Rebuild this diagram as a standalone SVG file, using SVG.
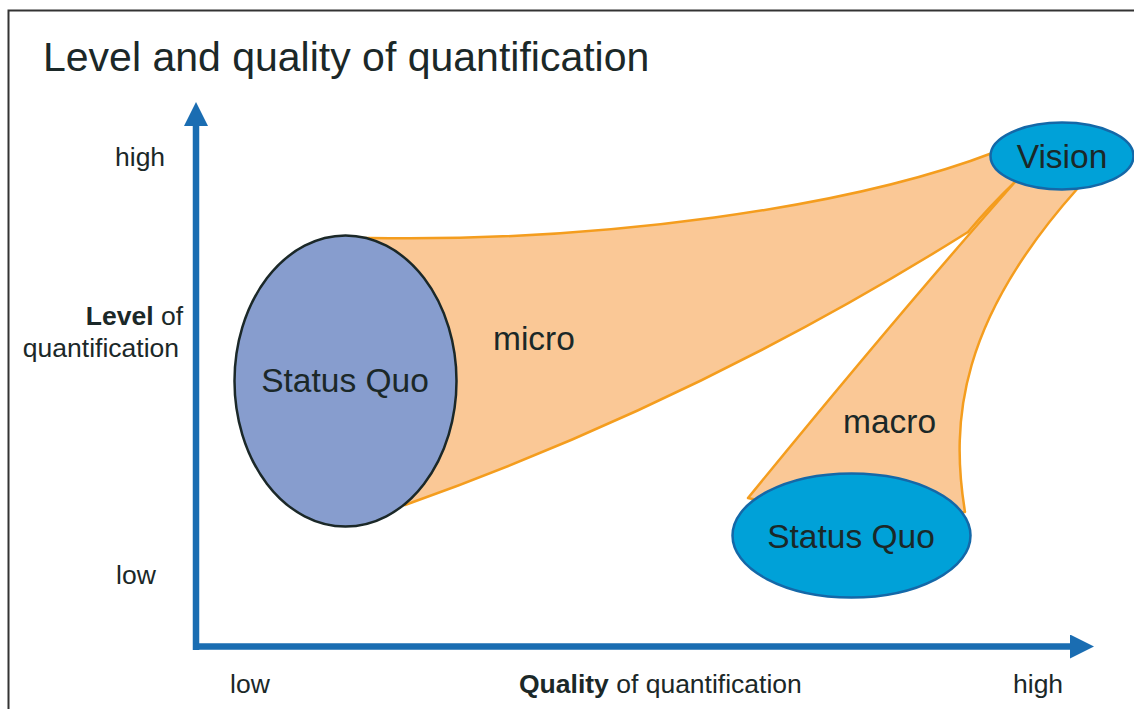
<svg xmlns="http://www.w3.org/2000/svg" width="1134" height="709" viewBox="0 0 1134 709">
<style>
text{font-family:"Liberation Sans",Arial,sans-serif;fill:#1b2828}
.lbl{font-size:26.5px}
.big{font-size:33.5px}
.funnel{fill:#fac896;stroke:#f49d1e;stroke-width:2.5;stroke-linejoin:round}
.axis{stroke:#1a6db2;stroke-width:6.5;fill:none}
</style>
<defs>
<marker id="ah" markerUnits="userSpaceOnUse" markerWidth="24" markerHeight="24" viewBox="0 0 24 24" refX="0" refY="12" orient="auto">
<path d="M0,0 L24,12 L0,24 Z" fill="#1a6db2"/>
</marker>
</defs>
<rect width="1134" height="709" fill="#fff"/>
<path d="M8.5,709 V10.5 H1134" fill="none" stroke="#333" stroke-width="2"/>
<text x="43" y="71" style="font-size:41px">Level and quality of quantification</text>
<g id="axes">
<path class="axis" d="M196,650 V126" marker-end="url(#ah)"/>
<path class="axis" d="M193,646.5 H1070" marker-end="url(#ah)"/>
</g>
<g id="axis-labels" class="lbl">
<text x="115" y="166">high</text>
<text x="116" y="584">low</text>
<text x="183" y="325" text-anchor="end"><tspan font-weight="bold">Level</tspan> of</text>
<text x="179" y="357" text-anchor="end">quantification</text>
<text x="230" y="693">low</text>
<text x="519" y="693"><tspan font-weight="bold">Quality</tspan> of quantification</text>
<text x="1013" y="693">high</text>
</g>
<g id="connectors">
<path id="micro" class="funnel" d="M345,238 L370,238 C600,242 850,208 995,152 L1030,170 L1015,182 Q990,206 968,232 Q700,400 405,505 L345,505 Z"/>
<path id="macro" class="funnel" d="M1050,175 L1015,182 Q900,312 748,498 L850,520 L965,512 C950,420 960,320 1078,188 Z"/>
<text class="big" x="493" y="350">micro</text>
<text class="big" x="843" y="433">macro</text>
</g>
<g id="status-quo-micro">
<ellipse cx="345.5" cy="381" rx="111" ry="145.5" fill="#879dce" stroke="#1b2828" stroke-width="2.5"/>
<text class="big" x="345" y="392" text-anchor="middle">Status Quo</text>
</g>
<g id="vision">
<ellipse cx="1062" cy="156" rx="71.5" ry="33.5" fill="#00a1d8" stroke="#1468a8" stroke-width="2.5"/>
<text class="big" x="1062" y="168" text-anchor="middle">Vision</text>
</g>
<g id="status-quo-macro">
<ellipse cx="851.5" cy="535.5" rx="119" ry="62" fill="#00a1d8" stroke="#1468a8" stroke-width="2.5"/>
<text class="big" x="851" y="548" text-anchor="middle">Status Quo</text>
</g>
</svg>
